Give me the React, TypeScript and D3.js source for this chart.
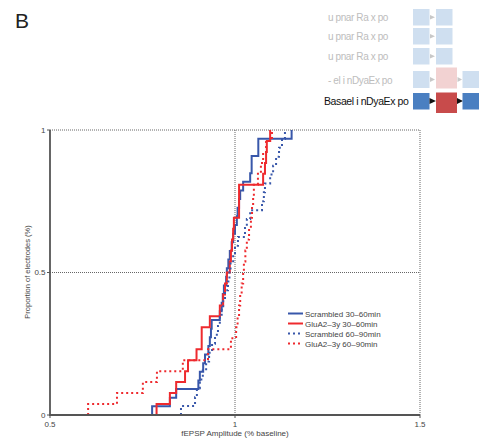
import React from "react";
import * as d3 from "d3";

// ECDF sample values (fEPSP amplitude, fraction of baseline), sorted
const scrambled3060 = [0.776, 0.824, 0.841, 0.901, 0.905, 0.914, 0.919, 0.928, 0.932, 0.935, 0.937, 0.959, 0.964, 0.967, 0.970, 0.976, 0.978, 0.982, 0.986, 0.991, 0.995, 1.000, 1.005, 1.007, 1.011, 1.014, 1.022, 1.041, 1.045, 1.045, 1.063, 1.063, 1.153];
const glua3060 = [0.788, 0.824, 0.841, 0.865, 0.873, 0.896, 0.910, 0.910, 0.932, 0.959, 0.968, 0.973, 0.978, 0.986, 0.989, 0.992, 0.995, 0.997, 1.011, 1.011, 1.011, 1.076, 1.081, 1.084, 1.086, 1.095];
const scrambled6090 = [0.854, 0.892, 0.897, 0.905, 0.913, 0.922, 0.930, 0.938, 0.946, 0.954, 0.959, 0.964, 0.968, 0.973, 0.981, 0.985, 0.988, 0.995, 1.000, 1.008, 1.027, 1.032, 1.041, 1.073, 1.078, 1.081, 1.095, 1.103, 1.111, 1.119, 1.127, 1.135];
const glua6090 = [0.603, 0.681, 0.751, 0.789, 0.859, 0.927, 0.989, 1.003, 1.007, 1.011, 1.014, 1.018, 1.022, 1.024, 1.028, 1.032, 1.038, 1.043, 1.046, 1.049, 1.051, 1.062, 1.070, 1.076, 1.084, 1.100];

const seriesNames = ["Scrambled 30\u201360min", "GluA2\u20133y 30\u201360min", "Scrambled 60\u201390min", "GluA2\u20133y 60\u201390min"];
const xTicks = [0.5, 1, 1.5];
const yTicks = [0, 0.5, 1];

// schematic rows (top right)
const rowLabels = ["u pnar Ra x po", "u pnar Ra x po", "u pnar Ra x po", "- el i nDyaEx po", "Basael i nDyaEx po"];

const BLUE = "#3857aa";
const RED = "#ee2a2e";

export default function App() {
  const x = d3.scaleLinear().domain([0.5, 1.5]).range([50, 420]);
  const y = d3.scaleLinear().domain([0, 1]).range([415, 130]);

  const ecdf = (vals: number[]) => {
    const n = vals.length;
    const pts: [number, number][] = [[vals[0], 0], ...vals.map((v, i) => [v, (i + 1) / n] as [number, number])];
    return d3.line<[number, number]>().x((d) => x(d[0])).y((d) => y(d[1])).curve(d3.curveStepAfter)(pts) || "";
  };

  const series = [
    { vals: scrambled3060, color: BLUE, dash: undefined },
    { vals: glua3060, color: RED, dash: undefined },
    { vals: scrambled6090, color: BLUE, dash: "2 3" },
    { vals: glua6090, color: RED, dash: "2 3" },
  ];

  const font = "'Liberation Sans', Arial, Helvetica, sans-serif";
  const grid = "#666";

  // schematic geometry
  const rowsY = [9, 28, 48, 71, 93];
  const lightBlue = "#cfdff0";

  return (
    <svg width={483} height={444} style={{ position: "absolute", left: 0, top: 0, background: "#fff" }} fontFamily={font}>
      <text x={15} y={28} fontSize={21} fill="#222">B</text>

      {rowLabels.map((t, i) => (
        <text key={i} x={i === 4 ? 324 : 328} y={rowsY[i] + (i === 3 ? 13 : 12)} fontSize={i === 4 ? 10.5 : 10}
          fill={i === 4 ? "#111" : "#bdbdbd"} letterSpacing={-0.4}>{t}</text>
      ))}
      {rowsY.slice(0, 3).map((ry, i) => (
        <g key={i}>
          <rect x={413} y={ry} width={16.5} height={16.5} fill={lightBlue} />
          <path d={`M430,${ry + 6} L435,${ry + 8.25} L430,${ry + 10.5}Z`} fill="#c8c8c8" />
          <rect x={436} y={ry} width={16.5} height={16.5} fill={lightBlue} />
        </g>
      ))}
      <g>
        <rect x={413} y={71} width={16.5} height={17} fill={lightBlue} />
        <path d="M430,77 L435,79.5 L430,82Z" fill="#c8c8c8" />
        <rect x={436} y={67.5} width={21} height={21} fill="#f2d2d2" />
        <path d="M457.5,77 L462,79.5 L457.5,82Z" fill="#c8c8c8" />
        <rect x={462.5} y={71} width={16.5} height={17} fill={lightBlue} />
      </g>
      <g>
        <rect x={413} y={93} width={16.5} height={16.5} fill="#4a7fc1" />
        <path d="M429.5,98 L436,101 L429.5,104Z" fill="#111" />
        <rect x={436} y={92.5} width={21} height={20.5} fill="#c84b4b" />
        <path d="M457,98 L463,101 L457,104Z" fill="#111" />
        <rect x={462.5} y={93} width={16.5} height={16.5} fill="#4a7fc1" />
      </g>

      {/* frame/grid */}
      <line x1={x(0.5)} x2={x(1.5)} y1={y(1)} y2={y(1)} stroke={grid} strokeWidth={1} strokeDasharray="1 1" />
      <line x1={x(0.5)} x2={x(1.5)} y1={y(0.5)} y2={y(0.5)} stroke={grid} strokeWidth={1} strokeDasharray="1 1" />
      <line x1={x(1)} x2={x(1)} y1={y(1)} y2={y(0)} stroke={grid} strokeWidth={1} strokeDasharray="1 1" />
      <line x1={x(1.5)} x2={x(1.5)} y1={y(1)} y2={y(0)} stroke={grid} strokeWidth={1} strokeDasharray="1 1" />

      {series.map((s, i) => (
        <path key={i} d={ecdf(s.vals)} fill="none" stroke={s.color} strokeWidth={2} strokeDasharray={s.dash} />
      ))}

      {/* axes */}
      <line x1={x(0.5)} x2={x(0.5)} y1={y(1)} y2={y(0) + 1} stroke="#555" strokeWidth={1.8} />
      <line x1={x(0.5)} x2={x(1.5)} y1={y(0)} y2={y(0)} stroke="#555" strokeWidth={1.8} />
      {yTicks.map((t) => (
        <g key={t}>
          <line x1={x(0.5) - 3} x2={x(0.5)} y1={y(t)} y2={y(t)} stroke="#555" strokeWidth={1} />
          <text x={x(0.5) - 4.5} y={y(t) + 2.8} fontSize={8} textAnchor="end" fill="#444">{t}</text>
        </g>
      ))}
      {xTicks.map((t) => (
        <g key={t}>
          <line x1={x(t)} x2={x(t)} y1={y(0)} y2={y(0) + 3} stroke="#555" strokeWidth={1} />
          <text x={x(t)} y={y(0) + 12} fontSize={8} textAnchor="middle" fill="#444">{t}</text>
        </g>
      ))}
      <text x={235} y={436} fontSize={8} textAnchor="middle" fill="#444">fEPSP Amplitude (% baseline)</text>
      <text transform="translate(29.5,272) rotate(-90)" fontSize={7.5} textAnchor="middle" fill="#444">Proportion of electrodes (%)</text>

      {/* legend */}
      {seriesNames.map((nm, i) => (
        <g key={nm}>
          <line x1={288} x2={303} y1={313.5 + i * 10} y2={313.5 + i * 10} stroke={series[i].color} strokeWidth={2} strokeDasharray={series[i].dash} />
          <text x={305} y={316.5 + i * 10} fontSize={8} fill="#444">{nm}</text>
        </g>
      ))}
    </svg>
  );
}
